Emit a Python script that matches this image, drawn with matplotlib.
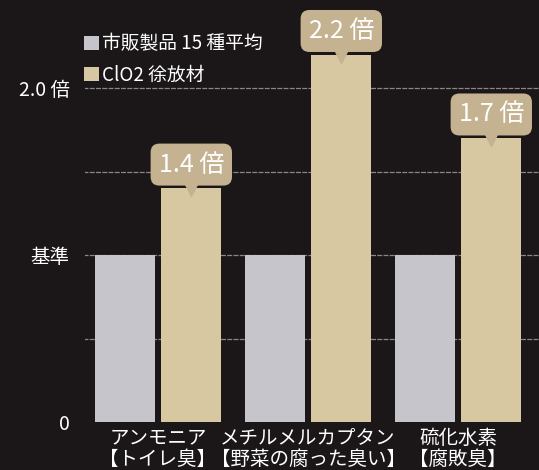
import matplotlib
matplotlib.use("Agg")
import matplotlib.pyplot as plt
from matplotlib.patches import Patch
import numpy as np

plt.rcParams['font.family'] = ['Noto Sans CJK JP', 'DejaVu Sans']

categories = ["アンモニア\n【トイレ臭】", "メチルメルカプタン\n【野菜の腐った臭い】", "硫化水素\n【腐敗臭】"]
series_names = ["市販製品 15 種平均", "ClO2 徐放材"]
baseline = [1.0, 1.0, 1.0]
clo2 = [1.4, 2.2, 1.7]
annot_labels = ["1.4 倍", "2.2 倍", "1.7 倍"]
ytick_vals = [0, 1.0, 2.0]
ytick_labels = ["0", "基準", "2.0 倍"]
grid_vals = [0.5, 1.0, 1.5, 2.0]

bg = "#1b1617"
gray_c = "#c6c5cc"
tan_c = "#d7c8a2"
box_c = "#c4b290"
grid_c = "#8a8686"

W, H = 539, 470
fig = plt.figure(figsize=(W / 100, H / 100), dpi=100)
fig.patch.set_facecolor(bg)

# axes: left 85px, right edge, bottom at 422px from top
ax = fig.add_axes([85 / W, 48 / H, (W - 85) / W, 422 / H])
ax.set_facecolor(bg)

x = np.arange(len(categories))
w = 0.40
off = 0.222
ax.hlines(grid_vals, -1, 4, colors=grid_c, linewidth=0.9, linestyles=(0, (4, 1)), zorder=1)
ax.bar(x - off, baseline, width=w, color=gray_c, zorder=2)
ax.bar(x + off, clo2, width=w, color=tan_c, zorder=2)

ax.set_xlim(-(158 - 85) / 150, (539 - 158) / 150)
ax.set_ylim(0, 422 / 167)

for xi, v, lab in zip(x + off, clo2, annot_labels):
    ax.plot([xi], [v], marker='v', markersize=11, color=box_c, zorder=3, clip_on=False)
    ax.annotate(lab, xy=(xi, v), xytext=(0, 17), textcoords='offset points',
                ha='center', va='center', fontsize=18, color='white',
                zorder=4,
                bbox=dict(boxstyle='round,pad=0.32,rounding_size=0.35', fc=box_c, ec='none'))

ax.set_yticks(ytick_vals)
ax.set_yticklabels(ytick_labels, color='white', fontsize=14)
ax.set_xticks(x)
ax.set_xticklabels(categories, color='white', fontsize=14, linespacing=1.0)
ax.tick_params(axis='both', length=0)
ax.tick_params(axis='y', pad=11)
ax.tick_params(axis='x', pad=4)
for s in ax.spines.values():
    s.set_visible(False)

handles = [Patch(facecolor=gray_c, edgecolor='none'), Patch(facecolor=tan_c, edgecolor='none')]
fig.legend(handles, series_names, loc='upper left', bbox_to_anchor=(76 / W, 1 - 26 / H),
           frameon=False, labelcolor='white', fontsize=13.5, handlelength=0.8,
           handleheight=0.8, handletextpad=0.2, labelspacing=0.55, borderaxespad=0)

fig.savefig("out.png", dpi=100, facecolor=bg)
